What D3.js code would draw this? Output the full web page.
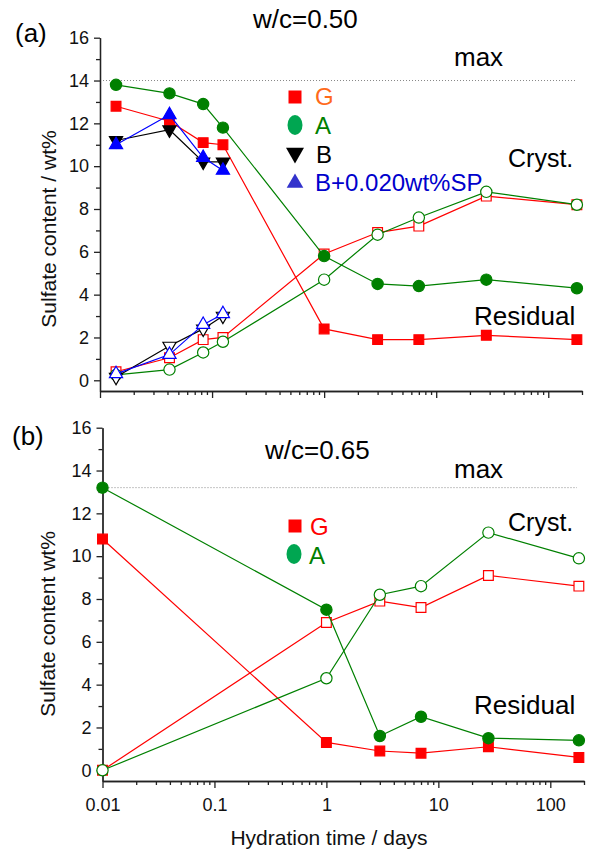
<!DOCTYPE html>
<html>
<head>
<meta charset="utf-8">
<script src="https://cdn.jsdelivr.net/npm/d3@7"></script>
<style>
  body { margin: 0; background: #fff; }
  svg { font-family: "Liberation Sans", Arial, sans-serif; }
  .axis path, .axis line { stroke: #222; stroke-width: 1.3; }
  .axis text { font-size: 18px; fill: #111; }
</style>
</head>
<body>
<script>
// hydration times (days)
var topTimes = [0.0139, 0.0417, 0.0833, 0.125, 1, 3, 7, 28, 180];
var topEarly = [0.0139, 0.0417, 0.0833, 0.125];
var botTimes = [0.01, 1, 3, 7, 28, 180];

// w/c = 0.50  (res = residual, cry = crystallised)
var topGres = [12.8, 12.1, 11.1, 11.0, 2.4, 1.9, 1.9, 2.1, 1.9];
var topGcry = [0.4, 1.05, 1.9, 2.0, 5.9, 6.9, 7.2, 8.6, 8.2];
var topAres = [13.8, 13.4, 12.9, 11.8, 5.8, 4.5, 4.4, 4.7, 4.3];
var topAcry = [0.25, 0.5, 1.3, 1.8, 4.7, 6.8, 7.6, 8.8, 8.2];
var topBres = [11.2, 11.7, 10.2, 10.2];
var topBcry = [0.15, 1.6, 2.4, 3.0];
var topSPres = [11.0, 12.4, 10.4, 9.8];
var topSPcry = [0.3, 1.2, 2.6, 3.1];
var topMax = 14;

// w/c = 0.65
var botGres = [10.8, 1.3, 0.9, 0.8, 1.1, 0.6];
var botGcry = [0, 6.9, 7.9, 7.6, 9.1, 8.6];
var botAres = [13.2, 7.5, 1.6, 2.5, 1.5, 1.4];
var botAcry = [0, 4.3, 8.2, 8.6, 11.1, 9.9];
var botMax = 13.2;

var yTicks = [0, 2, 4, 6, 8, 10, 12, 14, 16];
var yMinor = [1, 3, 5, 7, 9, 11, 13, 15];
var xTicks = [0.01, 0.1, 1, 10, 100];
var xTickLabels = ["0.01", "0.1", "1", "10", "100"];

var RED = "#ff0000", GREEN = "#008000", BLUE = "#0000ff";

var svg = d3.select("body").append("svg")
    .attr("width", 592).attr("height", 849);

var xMinor = [];
[0.01, 0.1, 1, 10, 100].forEach(function (d) {
  for (var k = 2; k <= 9; k++) { if (d * k <= 200) xMinor.push(d * k); }
});

function panel(cfg) {
  var x = d3.scaleLog().domain([0.01, 200]).range(cfg.xr);
  var y = d3.scaleLinear().domain([-0.5, 16]).range(cfg.yr);
  var g = svg.append("g");

  // max line
  g.append("line")
    .attr("x1", x(0.01)).attr("x2", cfg.maxEnd)
    .attr("y1", y(cfg.max)).attr("y2", y(cfg.max))
    .attr("stroke", "#888").attr("stroke-width", 1)
    .attr("stroke-dasharray", "1,2");

  // axes
  g.append("g").attr("class", "axis")
    .attr("transform", "translate(0," + cfg.yr[0] + ")")
    .call(d3.axisBottom(x).tickValues(xMinor).tickSize(4).tickFormat("").tickSizeOuter(0));
  var xa = g.append("g").attr("class", "axis")
    .attr("transform", "translate(0," + cfg.yr[0] + ")")
    .call(d3.axisBottom(x).tickValues(xTicks).tickSize(7).tickPadding(10).tickSizeOuter(0)
      .tickFormat(function (d, i) { return cfg.xLabels ? xTickLabels[i] : ""; }));
  g.append("g").attr("class", "axis")
    .attr("transform", "translate(" + cfg.xr[0] + ",0)")
    .call(d3.axisLeft(y).tickValues(yMinor).tickSize(4).tickFormat("").tickSizeOuter(0));
  g.append("g").attr("class", "axis")
    .attr("transform", "translate(" + cfg.xr[0] + ",0)")
    .call(d3.axisLeft(y).tickValues(yTicks).tickSize(6).tickPadding(5).tickSizeOuter(0));

  var line = d3.line().x(function (d) { return x(d[0]); }).y(function (d) { return y(d[1]); });

  cfg.series.forEach(function (s) {
    var pts = s.t.map(function (t, i) { return [t, s.v[i]]; });
    g.append("path").datum(pts)
      .attr("fill", "none").attr("stroke", s.c).attr("stroke-width", 1.2)
      .attr("d", line);
    g.selectAll(null).data(pts).enter().append("path")
      .attr("transform", function (d) {
        return "translate(" + x(d[0]) + "," + y(d[1]) + ")" + (s.down ? " rotate(180)" : "");
      })
      .attr("d", d3.symbol().type(s.sym).size(s.size))
      .attr("fill", s.open ? "#fff" : s.c)
      .attr("stroke", s.c).attr("stroke-width", 1.2);
  });

  cfg.texts.forEach(function (t) {
    g.append("text").attr("x", t[0]).attr("y", t[1])
      .attr("font-size", t[3]).attr("fill", "#000").text(t[2]);
  });

  // y title
  g.append("text")
    .attr("transform", "translate(" + cfg.yTitle[0] + "," + cfg.yTitle[1] + ") rotate(-90)")
    .attr("text-anchor", "middle").attr("font-size", 21).attr("fill", "#111")
    .text(cfg.yTitle[2]);

  // legend
  cfg.legend.forEach(function (l) {
    var m;
    if (l.sym === "ellipse") {
      m = g.append("ellipse").attr("cx", l.mx).attr("cy", l.my).attr("rx", 7.5).attr("ry", 10);
    } else {
      m = g.append("path")
        .attr("transform", "translate(" + l.mx + "," + l.my + ")" + (l.down ? " rotate(180)" : ""))
        .attr("d", d3.symbol().type(l.sym).size(l.size));
    }
    m.attr("fill", l.mc);
    g.append("text").attr("x", l.tx).attr("y", l.ty)
      .attr("font-size", 24).attr("fill", l.tc).text(l.label);
  });
}

panel({
  xr: [100, 582], yr: [391, 37.7], max: topMax, maxEnd: 575, xLabels: false,
  series: [
    { t: topTimes, v: topGres, c: RED, sym: d3.symbolSquare, size: 95 },
    { t: topTimes, v: topGcry, c: RED, sym: d3.symbolSquare, size: 95, open: true },
    { t: topTimes, v: topAres, c: GREEN, sym: d3.symbolCircle, size: 100 },
    { t: topTimes, v: topAcry, c: GREEN, sym: d3.symbolCircle, size: 100, open: true },
    { t: topEarly, v: topBres, c: "#000", sym: d3.symbolTriangle, size: 75, down: true },
    { t: topEarly, v: topBcry, c: "#000", sym: d3.symbolTriangle, size: 75, down: true, open: true },
    { t: topEarly, v: topSPres, c: BLUE, sym: d3.symbolTriangle, size: 75 },
    { t: topEarly, v: topSPcry, c: BLUE, sym: d3.symbolTriangle, size: 75, open: true }
  ],
  texts: [
    [15, 42, "(a)", 26], [253, 28, "w/c=0.50", 26], [454, 66, "max", 26],
    [508, 167, "Cryst.", 25], [474, 325, "Residual", 26]
  ],
  yTitle: [56, 229, "Sulfate content / wt%"],
  legend: [
    { sym: d3.symbolSquare, size: 169, mx: 295, my: 97, mc: RED, tx: 315, ty: 105, tc: "#ff6a1a", label: "G" },
    { sym: "ellipse", mx: 295, my: 125, mc: "#00a651", tx: 315, ty: 134, tc: GREEN, label: "A" },
    { sym: d3.symbolTriangle, size: 140, down: true, mx: 295, my: 153, mc: "#000", tx: 316, ty: 163, tc: "#000", label: "B" },
    { sym: d3.symbolTriangle, size: 120, mx: 295, my: 183, mc: "#3333cc", tx: 315, ty: 191, tc: "#0000cc", label: "B+0.020wt%SP" }
  ]
});

panel({
  xr: [102.5, 584], yr: [781, 427.7], max: botMax, maxEnd: 577, xLabels: true,
  series: [
    { t: botTimes, v: botGres, c: RED, sym: d3.symbolSquare, size: 95 },
    { t: botTimes, v: botGcry, c: RED, sym: d3.symbolSquare, size: 95, open: true },
    { t: botTimes, v: botAres, c: GREEN, sym: d3.symbolCircle, size: 100 },
    { t: botTimes, v: botAcry, c: GREEN, sym: d3.symbolCircle, size: 100, open: true }
  ],
  texts: [
    [12, 445, "(b)", 26], [265, 459, "w/c=0.65", 26], [454, 478, "max", 26],
    [508, 531, "Cryst.", 25], [474, 714, "Residual", 26]
  ],
  yTitle: [55, 624, "Sulfate content wt%"],
  legend: [
    { sym: d3.symbolSquare, size: 169, mx: 295, my: 526, mc: RED, tx: 310, ty: 535, tc: RED, label: "G" },
    { sym: "ellipse", mx: 294, my: 554, mc: "#00a651", tx: 309, ty: 564, tc: GREEN, label: "A" }
  ]
});

svg.append("text").attr("x", 329).attr("y", 845)
  .attr("text-anchor", "middle").attr("font-size", 21).attr("fill", "#111")
  .text("Hydration time / days");
</script>
</body>
</html>
